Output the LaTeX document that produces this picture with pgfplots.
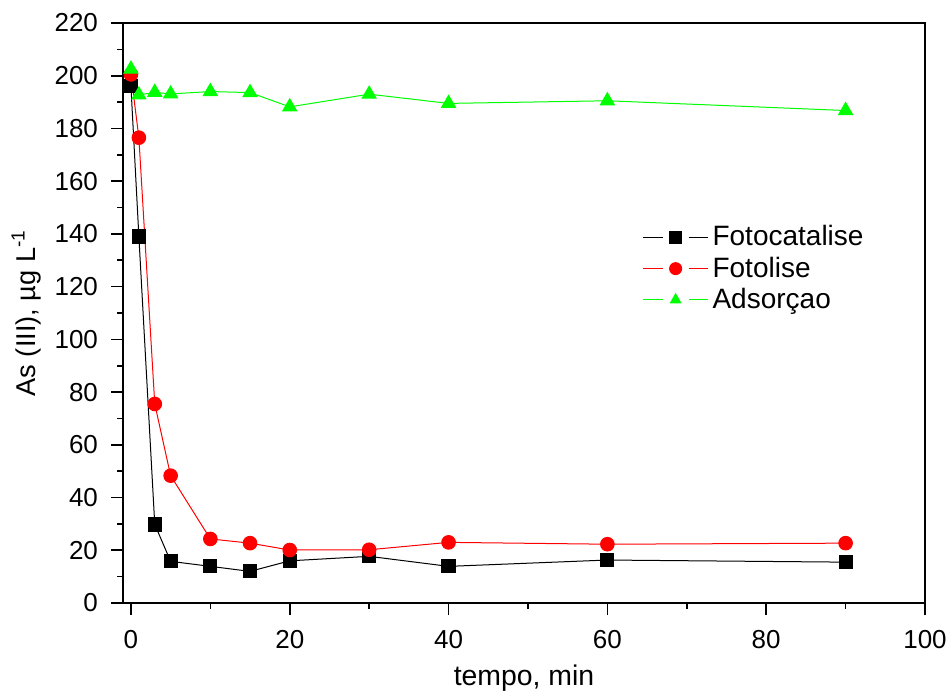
\documentclass[border=0pt]{standalone}
\usepackage{fontspec}
\setmainfont{Liberation Sans}
\usepackage{pgfplots}
\pgfplotsset{compat=1.18}

\begin{document}
\begin{tikzpicture}
\begin{axis}[
  name=main,
  scale only axis,
  width=401pt, height=290pt,
  xmin=-1, xmax=100, ymin=0, ymax=220,
  xtick={0,20,...,100}, ytick={0,20,...,220},
  minor tick num=1,
  xtick pos=bottom, ytick pos=left,
  tick align=outside,
  major tick length=6pt, minor tick length=3pt,
  every tick/.style={black, line width=0.8pt},
  axis line style={line width=0.8pt},
  /pgf/number format/assume math mode=true,
  tick label style={font=\fontsize{13}{15}\selectfont},
  xticklabel style={yshift=-4pt},
  yticklabel style={xshift=-3pt},
  xlabel style={font=\fontsize{14.2}{17}\selectfont,
    at={(axis description cs:0.5,-0.1414)}, anchor=base},
  ylabel style={font=\fontsize{13.6}{16}\selectfont,
    at={(axis description cs:-0.1097,0.5)}, anchor=base},
  xlabel={tempo, min},
  ylabel={As (III), µg L\textsuperscript{-1}},
  legend style={draw=none, fill=none, at={(0.64,0.665)}, anchor=north west,
    font=\fontsize{14}{17}\selectfont, row sep=0pt},
  legend cell align=left,
  legend image code/.code={
    \draw[#1, mark=none] (0cm,0cm) -- (0.34cm,0cm);
    \draw[#1, mark=none] (0.8cm,0cm) -- (1.14cm,0cm);
    \draw[#1, mark size=3pt] plot coordinates {(0.57cm,0cm)};
  },
]
\addplot[black, line width=0.5pt, mark=square*, mark size=3.3pt] coordinates {
  (0,196) (1,139) (3,29.8) (5,15.8) (10,13.9) (15,12) (20,16) (30,17.7) (40,13.9) (60,16.3) (90,15.5)
};
\addlegendentry{Fotocatalise}
\addplot[red, line width=0.5pt, mark=*, mark size=3.4pt] coordinates {
  (0,200.5) (1,176.5) (3,75.5) (5,48.3) (10,24.3) (15,22.7) (20,20.1) (30,20.2) (40,23) (60,22.3) (90,22.7)
};
\addlegendentry{Fotolise}
\addplot[green, line width=0.5pt, mark=triangle*, mark size=4pt] coordinates {
  (0,202.5) (1,192.7) (3,193.7) (5,193.1) (10,194) (15,193.6) (20,188.2) (30,193) (40,189.5) (60,190.5) (90,186.8)
};
\addlegendentry{Adsorçao}
\end{axis}
\pgfresetboundingbox
\path[use as bounding box] ([xshift=-61.5pt,yshift=-44pt]main.south west)
  rectangle ([xshift=10.5pt,yshift=11.5pt]main.north east);
\end{tikzpicture}
\end{document}
